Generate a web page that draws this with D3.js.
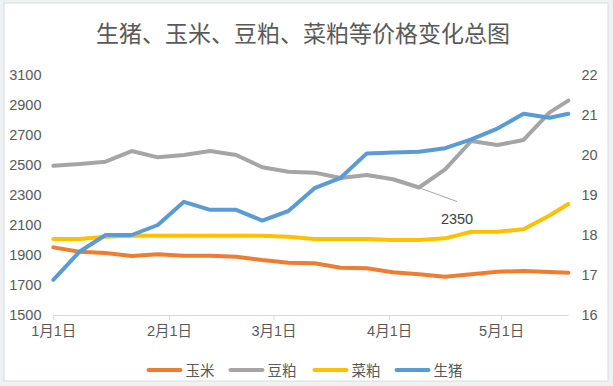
<!DOCTYPE html>
<html>
<head>
<meta charset="utf-8">
<script src="https://cdn.jsdelivr.net/npm/d3@7"></script>
<style>
  body { margin: 0; background: #eef2f2; }
  text { font-family: "Liberation Sans", "Noto Sans CJK SC", sans-serif; }
</style>
</head>
<body>
<div id="chart"></div>
<script>
// weekly price data, 2019
const dates = ["2019-01-01", "2019-01-08", "2019-01-15", "2019-01-22", "2019-01-29",
    "2019-02-05", "2019-02-12", "2019-02-19", "2019-02-26", "2019-03-05",
    "2019-03-12", "2019-03-19", "2019-03-26", "2019-04-02", "2019-04-09",
    "2019-04-16", "2019-04-23", "2019-04-30", "2019-05-07", "2019-05-14", "2019-05-19"];
const corn = [1951, 1922, 1913, 1893, 1905, 1895, 1895, 1889, 1867, 1849, 1845,
    1815, 1811, 1785, 1771, 1755, 1771, 1789, 1793, 1787, 1782];
const soymeal = [2495, 2507, 2522, 2593, 2551, 2567, 2593, 2567, 2485, 2455, 2449,
    2413, 2433, 2405, 2350, 2471, 2660, 2633, 2667, 2851, 2929];
const rapeseed = [2007, 2007, 2022, 2029, 2029, 2029, 2029, 2029, 2029, 2022, 2007,
    2007, 2007, 2000, 2000, 2011, 2055, 2055, 2071, 2163, 2240];
const pig = [16.88, 17.58, 18.0, 18.0, 18.25, 18.83, 18.63, 18.63, 18.36, 18.6, 19.17,
    19.43, 20.04, 20.06, 20.08, 20.17, 20.39, 20.66, 21.03, 20.93, 21.03];

const leftTicks = [1500, 1700, 1900, 2100, 2300, 2500, 2700, 2900, 3100];
const rightTicks = [16, 17, 18, 19, 20, 21, 22];
const seriesNames = ["玉米", "豆粕", "菜粕", "生猪"];
const title = "生猪、玉米、豆粕、菜粕等价格变化总图";

const width = 613, height = 386;
const parse = d3.timeParse("%Y-%m-%d");

const svg = d3.select("#chart").append("svg")
    .attr("width", width)
    .attr("height", height);

// chart frame
svg.append("rect")
    .attr("x", 4).attr("y", 3)
    .attr("width", 604).attr("height", 378)
    .attr("fill", "#fff")
    .attr("stroke", "#dcdcdc");

const x = d3.scaleTime()
    .domain([parse("2019-01-01"), parse("2019-05-19")])
    .range([53.3, 568.3]);
const yLeft = d3.scaleLinear().domain([1500, 3100]).range([315, 75]);
const yRight = d3.scaleLinear().domain([16, 22]).range([315, 75]);

// title
svg.append("text")
    .attr("x", 303)
    .attr("y", 42)
    .attr("text-anchor", "middle")
    .style("font-family", "'Noto Sans CJK SC', sans-serif")
    .style("font-size", "23px")
    .attr("fill", "#595959")
    .text(title);

// left axis labels
svg.append("g").selectAll("text")
    .data(leftTicks)
    .enter().append("text")
    .attr("x", 41.5)
    .attr("y", d => yLeft(d) + 5)
    .attr("text-anchor", "end")
    .style("font-size", "14.5px")
    .attr("fill", "#595959")
    .text(d => d);

// right axis labels
svg.append("g").selectAll("text")
    .data(rightTicks)
    .enter().append("text")
    .attr("x", 581.5)
    .attr("y", d => yRight(d) + 5)
    .style("font-size", "14.5px")
    .attr("fill", "#595959")
    .text(d => d);

// x axis
const xAxis = d3.axisBottom(x)
    .ticks(d3.timeMonth.every(1))
    .tickFormat(d => (d.getMonth() + 1) + "月" + d.getDate() + "日")
    .tickSize(5)
    .tickSizeOuter(0)
    .tickPadding(6);

const gx = svg.append("g")
    .attr("transform", "translate(0,315)")
    .call(xAxis);
gx.select(".domain").attr("stroke", "#d9d9d9");
gx.selectAll(".tick line").attr("stroke", "#d9d9d9");
gx.selectAll(".tick text")
    .style("font-size", "14.5px")
    .style("font-family", "'Liberation Sans', 'Noto Sans CJK SC', sans-serif")
    .attr("fill", "#595959");

// lines
const series = [
    {name: seriesNames[0], values: corn, y: yLeft, color: "#ED7D31"},
    {name: seriesNames[1], values: soymeal, y: yLeft, color: "#A5A5A5"},
    {name: seriesNames[2], values: rapeseed, y: yLeft, color: "#FFC000"},
    {name: seriesNames[3], values: pig, y: yRight, color: "#5B9BD5"}
];

series.forEach(s => {
    const line = d3.line()
        .x((d, i) => x(parse(dates[i])))
        .y(d => s.y(d));
    svg.append("path")
        .datum(s.values)
        .attr("d", line)
        .attr("fill", "none")
        .attr("stroke", s.color)
        .attr("stroke-width", 4)
        .attr("stroke-linejoin", "round")
        .attr("stroke-linecap", "round");
});

// data label for soymeal low point
const lowIdx = soymeal.indexOf(d3.min(soymeal));
const lx = x(parse(dates[lowIdx])), ly = yLeft(soymeal[lowIdx]);
svg.append("line")
    .attr("x1", lx + 2).attr("y1", ly + 1)
    .attr("x2", lx + 38).attr("y2", ly + 14)
    .attr("stroke", "#a6a6a6")
    .attr("stroke-width", 1);
svg.append("text")
    .attr("x", lx + 38)
    .attr("y", ly + 36)
    .attr("text-anchor", "middle")
    .style("font-size", "14.5px")
    .attr("fill", "#404040")
    .text(soymeal[lowIdx]);

// legend
const legendX = [148.5, 230.5, 314.5, 396.5];
const legend = svg.append("g").selectAll("g")
    .data(series)
    .enter().append("g")
    .attr("transform", (d, i) => `translate(${legendX[i]}, 370)`);
legend.append("line")
    .attr("x1", 0).attr("x2", 32)
    .attr("stroke", d => d.color)
    .attr("stroke-width", 4)
    .attr("stroke-linecap", "round");
legend.append("text")
    .attr("x", 37)
    .attr("y", 5.5)
    .style("font-family", "'Noto Sans CJK SC', sans-serif")
    .style("font-size", "14.5px")
    .attr("fill", "#595959")
    .text(d => d.name);
</script>
</body>
</html>
